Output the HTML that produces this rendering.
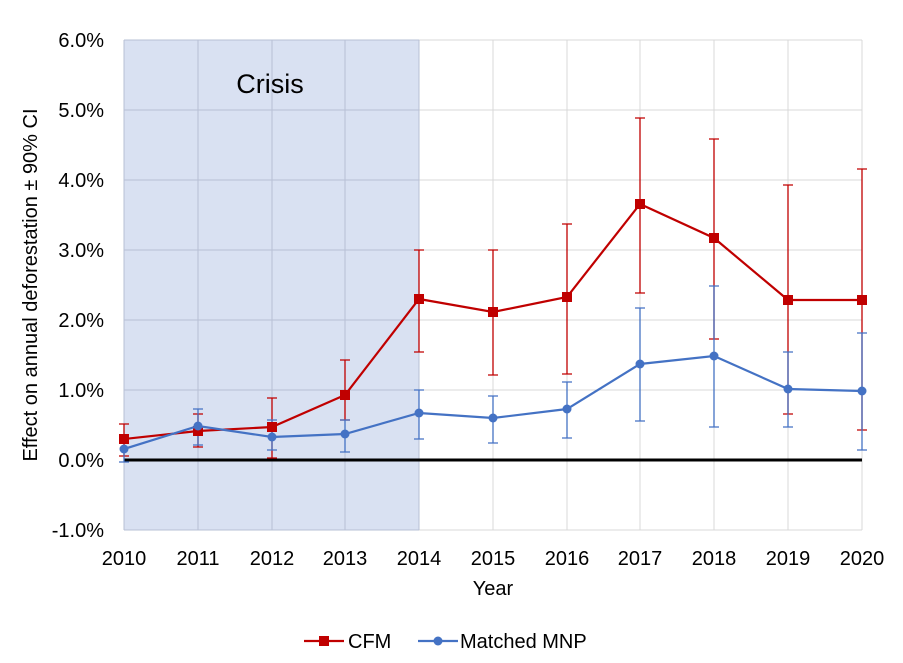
<!DOCTYPE html>
<html><head><meta charset="utf-8"><style>body{margin:0;background:#fff}svg{display:block;font-family:"Liberation Sans",Arial,sans-serif}</style></head><body>
<svg width="903" height="663" viewBox="0 0 903 663">
<rect x="124" y="40" width="295" height="490" fill="#d9e1f2"/>
<g stroke="#d9d9d9" stroke-width="1">
<line x1="419" y1="40" x2="862" y2="40"/><line x1="419" y1="110" x2="862" y2="110"/><line x1="419" y1="180" x2="862" y2="180"/><line x1="419" y1="250" x2="862" y2="250"/><line x1="419" y1="320" x2="862" y2="320"/><line x1="419" y1="390" x2="862" y2="390"/><line x1="419" y1="530" x2="862" y2="530"/>
<line x1="493" y1="40" x2="493" y2="530"/><line x1="567" y1="40" x2="567" y2="530"/><line x1="640" y1="40" x2="640" y2="530"/><line x1="714" y1="40" x2="714" y2="530"/><line x1="788" y1="40" x2="788" y2="530"/><line x1="862" y1="40" x2="862" y2="530"/>
</g>
<g stroke="#b7c0d4" stroke-width="1">
<line x1="124" y1="40" x2="419" y2="40"/><line x1="124" y1="110" x2="419" y2="110"/><line x1="124" y1="180" x2="419" y2="180"/><line x1="124" y1="250" x2="419" y2="250"/><line x1="124" y1="320" x2="419" y2="320"/><line x1="124" y1="390" x2="419" y2="390"/><line x1="124" y1="530" x2="419" y2="530"/>
<line x1="124" y1="40" x2="124" y2="530"/><line x1="198" y1="40" x2="198" y2="530"/><line x1="272" y1="40" x2="272" y2="530"/><line x1="345" y1="40" x2="345" y2="530"/><line x1="419" y1="40" x2="419" y2="530"/>
</g>
<line x1="124" y1="460" x2="862" y2="460" stroke="#000" stroke-width="3"/>
<text x="270" y="93" font-size="27" text-anchor="middle">Crisis</text>
<g font-size="20" text-anchor="end">
<text x="104" y="47">6.0%</text><text x="104" y="117">5.0%</text><text x="104" y="187">4.0%</text><text x="104" y="257">3.0%</text><text x="104" y="327">2.0%</text><text x="104" y="397">1.0%</text><text x="104" y="467">0.0%</text><text x="104" y="537">-1.0%</text>
</g>
<g font-size="20" text-anchor="middle">
<text x="124" y="565">2010</text><text x="198" y="565">2011</text><text x="272" y="565">2012</text><text x="345" y="565">2013</text><text x="419" y="565">2014</text><text x="493" y="565">2015</text><text x="567" y="565">2016</text><text x="640" y="565">2017</text><text x="714" y="565">2018</text><text x="788" y="565">2019</text><text x="862" y="565">2020</text>
<text x="493" y="595">Year</text>
</g>
<text transform="translate(37,285) rotate(-90)" font-size="20" text-anchor="middle">Effect on annual deforestation ± 90% CI</text>
<g stroke="#c00000" stroke-width="1.3" fill="none">
<path d="M124 424V456M119 424H129M119 456H129"/>
<path d="M198 414V447M193 414H203M193 447H203"/>
<path d="M272 398V458M267 398H277M267 458H277"/>
<path d="M345 360V420M340 360H350M340 420H350"/>
<path d="M419 250V352M414 250H424M414 352H424"/>
<path d="M493 250V375M488 250H498M488 375H498"/>
<path d="M567 224V374M562 224H572M562 374H572"/>
<path d="M640 118V293M635 118H645M635 293H645"/>
<path d="M714 139V339M709 139H719M709 339H719"/>
<path d="M788 185V414M783 185H793M783 414H793"/>
<path d="M862 169V430M857 169H867M857 430H867"/>
</g>
<g stroke="#4472c4" stroke-width="1.3" fill="none">
<path d="M124 449V462M119 462H129"/>
<path d="M198 409V445M193 409H203M193 445H203"/>
<path d="M272 420V450M267 420H277M267 450H277"/>
<path d="M345 420V452M340 420H350M340 452H350"/>
<path d="M419 390V439M414 390H424M414 439H424"/>
<path d="M493 396V443M488 396H498M488 443H498"/>
<path d="M567 382V438M562 382H572M562 438H572"/>
<path d="M640 308V421M635 308H645M635 421H645"/>
<path d="M714 286V427M709 286H719M709 427H719"/>
<path d="M788 352V427M783 352H793M783 427H793"/>
<path d="M862 333V450M857 333H867M857 450H867"/>
</g>
<polyline fill="none" stroke="#c00000" stroke-width="2.2" points="124,439 198,431 272,427 345,395 419,299 493,312 567,297 640,204 714,238 788,300 862,300"/>
<g fill="#c00000">
<rect x="119" y="434" width="10" height="10"/><rect x="193" y="426" width="10" height="10"/><rect x="267" y="422" width="10" height="10"/><rect x="340" y="390" width="10" height="10"/><rect x="414" y="294" width="10" height="10"/><rect x="488" y="307" width="10" height="10"/><rect x="562" y="292" width="10" height="10"/><rect x="635" y="199" width="10" height="10"/><rect x="709" y="233" width="10" height="10"/><rect x="783" y="295" width="10" height="10"/><rect x="857" y="295" width="10" height="10"/>
</g>
<polyline fill="none" stroke="#4472c4" stroke-width="2.2" points="124,449 198,426 272,437 345,434 419,413 493,418 567,409 640,364 714,356 788,389 862,391"/>
<g fill="#4472c4">
<circle cx="124" cy="449" r="4.5"/><circle cx="198" cy="426" r="4.5"/><circle cx="272" cy="437" r="4.5"/><circle cx="345" cy="434" r="4.5"/><circle cx="419" cy="413" r="4.5"/><circle cx="493" cy="418" r="4.5"/><circle cx="567" cy="409" r="4.5"/><circle cx="640" cy="364" r="4.5"/><circle cx="714" cy="356" r="4.5"/><circle cx="788" cy="389" r="4.5"/><circle cx="862" cy="391" r="4.5"/>
</g>
<line x1="304" y1="641" x2="344" y2="641" stroke="#c00000" stroke-width="2.2"/><rect x="319" y="636" width="10" height="10" fill="#c00000"/>
<text x="348" y="648" font-size="20">CFM</text>
<line x1="418" y1="641" x2="458" y2="641" stroke="#4472c4" stroke-width="2.2"/><circle cx="438" cy="641" r="4.5" fill="#4472c4"/>
<text x="460" y="648" font-size="20">Matched MNP</text>
</svg>
</body></html>
